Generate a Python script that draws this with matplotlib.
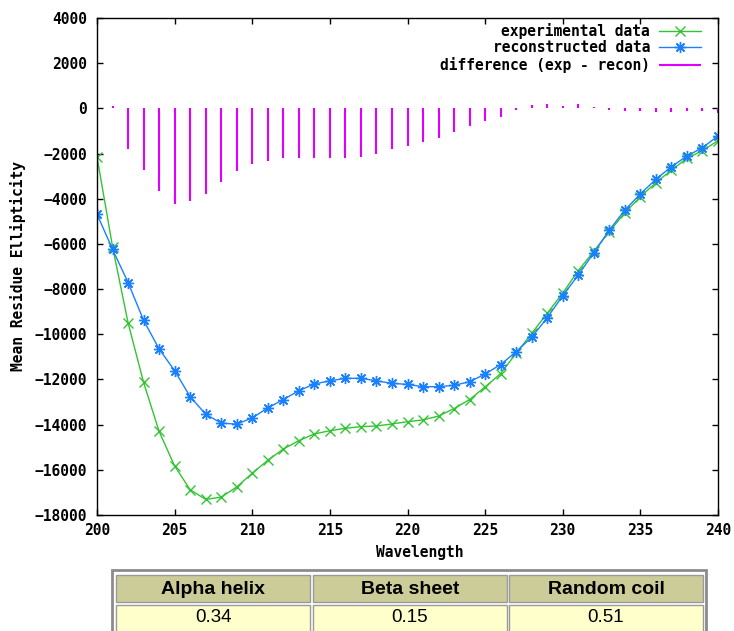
import numpy as np
import matplotlib
matplotlib.use("Agg")
from matplotlib import pyplot as plt
from matplotlib.patches import Rectangle

# data
wavelength = list(range(200, 241))
experimental = [-2140, -6120, -9490, -12130, -14300, -15830, -16880, -17310, -17210, -16760,
                -16150, -15580, -15080, -14710, -14410, -14270, -14160, -14090, -14060, -13970,
                -13870, -13790, -13620, -13290, -12890, -12330, -11740, -10840, -9960, -9070,
                -8180, -7180, -6330, -5460, -4620, -3910, -3290, -2730, -2210, -1870, -1430]
reconstructed = [-4680, -6240, -7710, -9380, -10650, -11610, -12760, -13540, -13930, -13980,
                 -13700, -13260, -12890, -12500, -12200, -12060, -11950, -11950, -12060, -12170,
                 -12220, -12320, -12320, -12260, -12100, -11760, -11340, -10770, -10130, -9270,
                 -8290, -7380, -6390, -5390, -4500, -3790, -3140, -2580, -2110, -1740, -1220]

# secondary structure fractions (table below the plot)
structures = ["Alpha helix", "Beta sheet", "Random coil"]
fractions = [0.34, 0.15, 0.51]

green = "#33c433"
blue = "#1a80ff"
magenta = "#e000ff"
mono = {"family": "DejaVu Sans Mono", "weight": "bold", "size": 10.5}

W, H = 734, 631
fig = plt.figure(figsize=(W / 100, H / 100), dpi=100)
fig.patch.set_facecolor("white")

ax = fig.add_axes([97 / W, 1 - 515 / H, 621 / W, 497 / H])

# difference bars (no bar at the first wavelength in the original)
diff_x = wavelength[1:]
diff_y = [e - r for e, r in zip(experimental[1:], reconstructed[1:])]

ax.plot(wavelength, experimental, color=green, lw=1, marker="x", ms=7, mew=1,
        label="experimental data")
ax.plot(wavelength, reconstructed, color=blue, lw=1, marker=(8, 2, 0), ms=8, mew=1,
        label="reconstructed data")
ax.vlines(diff_x, 0, diff_y, color=magenta, lw=1.5, label="difference (exp - recon)")

ax.set_xlim(200, 240)
ax.set_ylim(-18000, 4000)
ax.set_xticks(range(200, 241, 5))
ax.set_yticks(range(-18000, 4001, 2000))
ax.tick_params(direction="in", length=4, width=1, top=True, right=True, color="black")
ax.tick_params(axis="y", pad=7)
ax.tick_params(axis="x", pad=6)
for lab in ax.get_xticklabels() + ax.get_yticklabels():
    lab.set_fontproperties(matplotlib.font_manager.FontProperties(**mono))
for s in ax.spines.values():
    s.set_linewidth(1)

leg = ax.legend(loc="upper right", bbox_to_anchor=(0.988, 1.009), frameon=False,
                markerfirst=False, prop=mono, handlelength=2.9, handletextpad=0.6,
                labelspacing=0.1, borderaxespad=0.25)

fig.text(18 / W, 1 - 266 / H, "Mean Residue Ellipticity", rotation=90,
         ha="center", va="center", fontdict=mono)
fig.text(420 / W, 1 - 553 / H, "Wavelength", ha="center", va="center", fontdict=mono)

# html-like table under the chart, drawn in pixel coords
tb = fig.add_axes([0, 0, 1, 1], zorder=-1)
tb.set_xlim(0, W)
tb.set_ylim(H, 0)
tb.axis("off")
tb.add_patch(Rectangle((112, 570), 594, 70, facecolor="white", edgecolor="#8c8c8c", lw=2))
col_x = [116, 313, 509]
col_w = 194
for i, name in enumerate(structures):
    x0 = col_x[i]
    tb.add_patch(Rectangle((x0, 575), col_w, 27, facecolor="#cccc99", edgecolor="#9a9a9a", lw=1))
    tb.add_patch(Rectangle((x0, 605), col_w, 35, facecolor="#ffffcc", edgecolor="#9a9a9a", lw=1))
    tb.text(x0 + col_w / 2, 589, name, ha="center", va="center",
            family="Liberation Sans", weight="bold", size=14, color="black")
    tb.text(x0 + col_w / 2, 618, f"{fractions[i]:.2f}", ha="center", va="center",
            family="Liberation Sans", size=13.5, color="black")

fig.savefig("out.png", dpi=100)
